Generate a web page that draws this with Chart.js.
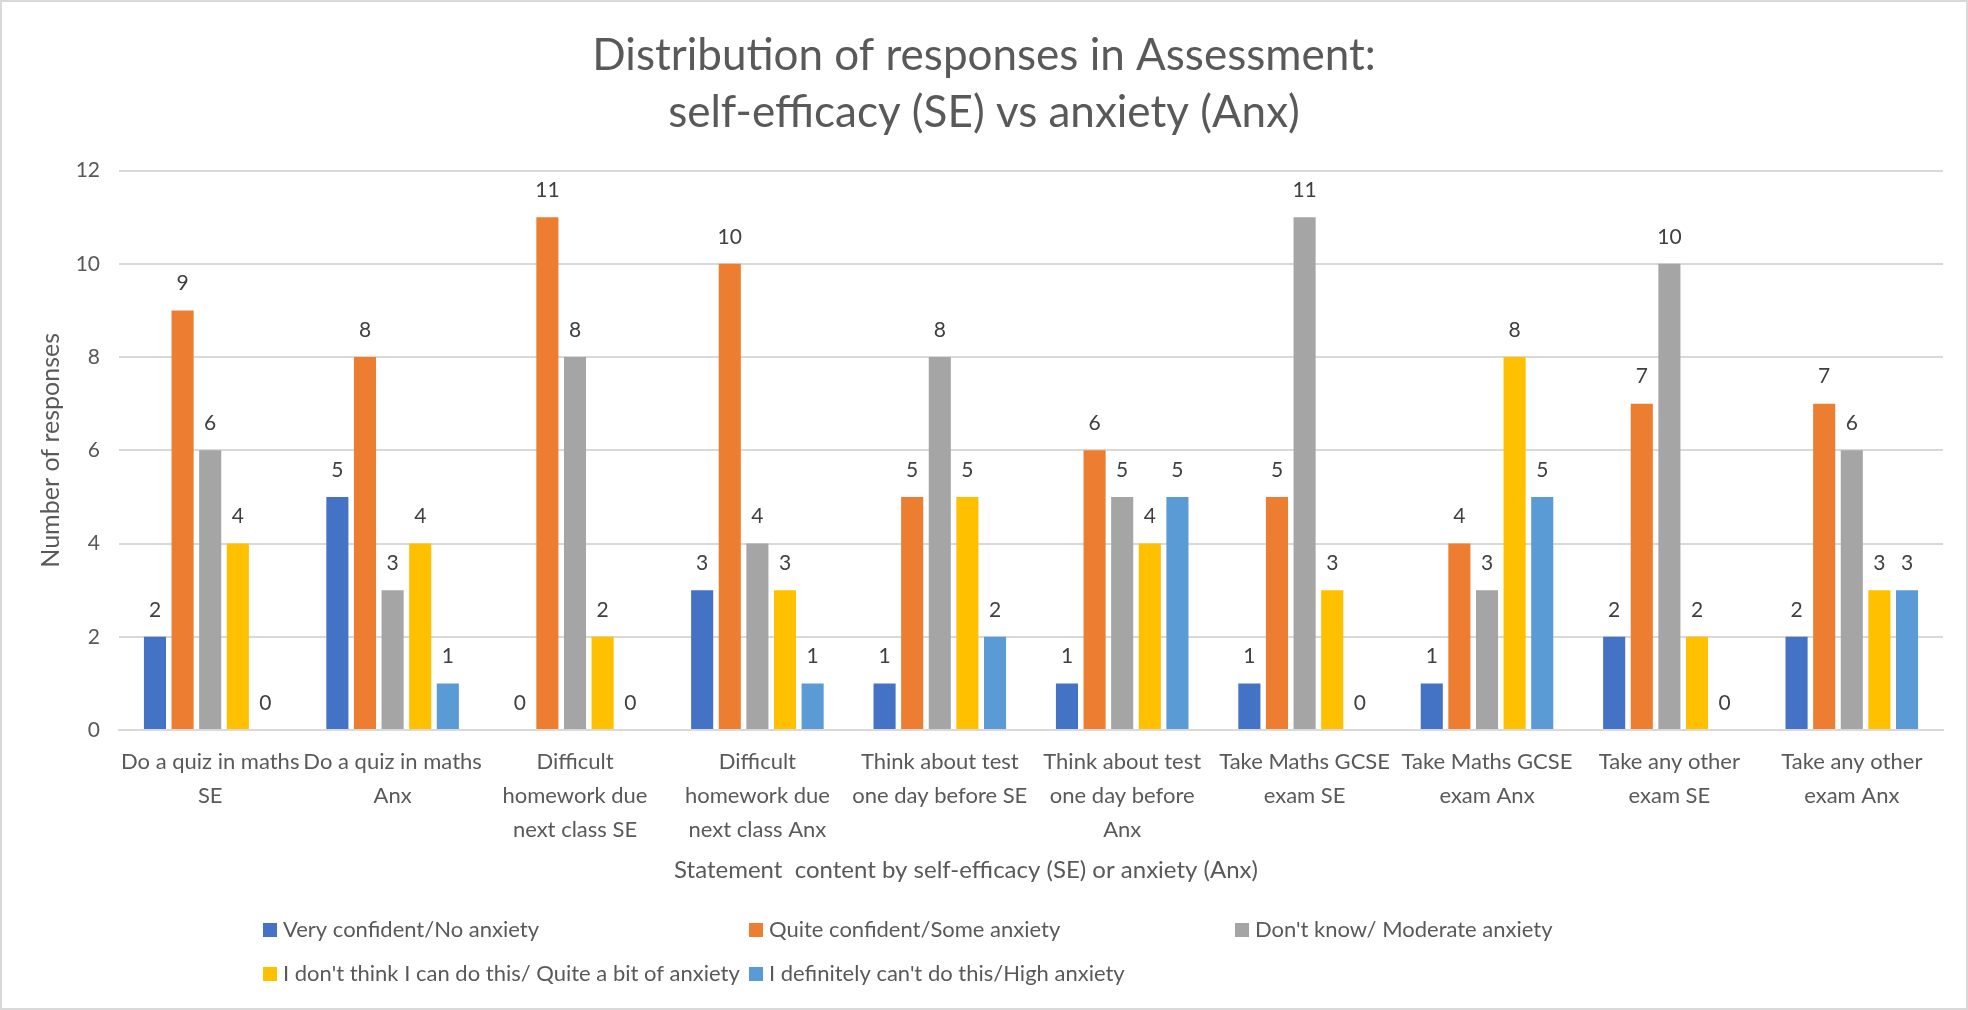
<!DOCTYPE html>
<html>
<head>
<meta charset="utf-8">
<title>Distribution of responses in Assessment</title>
<script src="https://cdn.jsdelivr.net/npm/chart.js@4.4.0/dist/chart.umd.min.js"></script>
<style>
  html, body { margin: 0; padding: 0; background: #ffffff; }
  #wrap { width: 1968px; height: 1010px; position: relative; }
</style>
</head>
<body>
<div id="wrap"><canvas id="chart" width="1968" height="1010"></canvas></div>
<script>
// Statements (x-axis categories), wrapped the way they are printed
const categories = [
  ['Do a quiz in maths', 'SE'],
  ['Do a quiz in maths', 'Anx'],
  ['Difficult', 'homework due', 'next class SE'],
  ['Difficult', 'homework due', 'next class Anx'],
  ['Think about test', 'one day before SE'],
  ['Think about test', 'one day before', 'Anx'],
  ['Take Maths GCSE', 'exam SE'],
  ['Take Maths GCSE', 'exam Anx'],
  ['Take any other', 'exam SE'],
  ['Take any other', 'exam Anx']
];

// Response options
const seriesLabels = [
  'Very confident/No anxiety',
  'Quite confident/Some anxiety',
  "Don't know/ Moderate anxiety",
  "I don't think I can do this/ Quite a bit of anxiety",
  "I definitely can't do this/High anxiety"
];
const seriesColors = ['#4472C4', '#ED7D31', '#A5A5A5', '#FFC000', '#5B9BD5'];

// Number of responses per statement, one array per response option
const veryConfident   = [2, 5, 0, 3, 1, 1, 1, 1, 2, 2];
const quiteConfident  = [9, 8, 11, 10, 5, 6, 5, 4, 7, 7];
const dontKnow        = [6, 3, 8, 4, 8, 5, 11, 3, 10, 6];
const cantDoThis      = [4, 4, 2, 3, 5, 4, 3, 8, 2, 3];
const definitelyCant  = [0, 1, 0, 1, 2, 5, 0, 5, 0, 3];
const seriesValues = [veryConfident, quiteConfident, dontKnow, cantDoThis, definitelyCant];

// Value axis
const yMin = 0;
const yMax = 12;
const yStep = 2;

const chartTitle = ['Distribution of responses in Assessment:', 'self-efficacy (SE) vs anxiety (Anx)'];
const xTitle = 'Statement  content by self-efficacy (SE) or anxiety (Anx)';
const yTitle = 'Number of responses';

const FONT = "Lato, 'Open Sans', 'DejaVu Sans', sans-serif";
const TEXT = '#595959';
const GRID = '#D9D9D9';

// White background and thin frame around the chart
const framePlugin = {
  id: 'frame',
  beforeDraw(chart) {
    const { ctx, width, height } = chart;
    ctx.save();
    ctx.fillStyle = '#ffffff';
    ctx.fillRect(0, 0, width, height);
    ctx.strokeStyle = GRID;
    ctx.lineWidth = 2;
    ctx.strokeRect(1, 1, width - 2, height - 2);
    ctx.restore();
  }
};

// Value labels above each bar
const valueLabels = {
  id: 'valueLabels',
  afterDatasetsDraw(chart) {
    const { ctx } = chart;
    ctx.save();
    ctx.font = '21px ' + FONT;
    ctx.fillStyle = '#404040';
    ctx.textAlign = 'center';
    ctx.textBaseline = 'middle';
    chart.data.datasets.forEach((ds, i) => {
      const meta = chart.getDatasetMeta(i);
      meta.data.forEach((bar, j) => {
        ctx.fillText(String(ds.data[j]), bar.x, bar.y - 27);
      });
    });
    ctx.restore();
  }
};

// Axis title under the category labels and a two-row legend in columns
const bottomText = {
  id: 'bottomText',
  afterDraw(chart) {
    const { ctx } = chart;
    ctx.save();
    ctx.font = '24px ' + FONT;
    ctx.fillStyle = TEXT;
    ctx.textBaseline = 'middle';
    ctx.textAlign = 'center';
    ctx.fillText(xTitle, 966, 870);

    const colX = [263, 749, 1235];
    const rowY = [930, 974];
    ctx.font = '22px ' + FONT;
    ctx.textAlign = 'left';
    chart.data.datasets.forEach((ds, i) => {
      const x = colX[i % 3];
      const y = rowY[Math.floor(i / 3)];
      ctx.fillStyle = ds.backgroundColor;
      ctx.fillRect(x, y - 7, 14, 14);
      ctx.fillStyle = TEXT;
      ctx.fillText(ds.label, x + 20, y);
    });
    ctx.restore();
  }
};

const datasets = seriesLabels.map((label, i) => ({
  label: label,
  data: seriesValues[i],
  backgroundColor: seriesColors[i],
  borderWidth: 0,
  categoryPercentage: 0.757,
  barPercentage: 0.8
}));

new Chart(document.getElementById('chart'), {
  type: 'bar',
  data: { labels: categories, datasets: datasets },
  plugins: [framePlugin, valueLabels, bottomText],
  options: {
    responsive: false,
    animation: false,
    devicePixelRatio: 1,
    layout: { padding: { left: 0, right: 0, top: 0, bottom: 110 } },
    plugins: {
      legend: { display: false },
      tooltip: { enabled: false },
      title: {
        display: true,
        text: chartTitle,
        color: TEXT,
        font: { family: FONT, size: 44, weight: 'normal', lineHeight: 1.28 },
        padding: { top: 28, bottom: 30 }
      }
    },
    scales: {
      x: {
        grid: { display: false, drawTicks: false },
        border: { display: true, color: GRID, width: 2 },
        ticks: {
          color: TEXT,
          font: { family: FONT, size: 22, lineHeight: 1.54 },
          padding: 15,
          maxRotation: 0,
          minRotation: 0,
          autoSkip: false
        },
        afterFit(scale) { scale.height = 170; }
      },
      y: {
        min: yMin,
        max: yMax,
        grid: { color: GRID, lineWidth: 2, drawTicks: false },
        border: { display: false },
        ticks: {
          stepSize: yStep,
          color: TEXT,
          font: { family: FONT, size: 21 },
          padding: 19
        },
        title: {
          display: true,
          text: yTitle,
          color: TEXT,
          font: { family: FONT, size: 25, lineHeight: 1.4 },
          padding: { top: 33, bottom: 0 }
        },
        afterFit(scale) { scale.width = 119; }
      },
      // empty margin on the right of the plot
      yRight: {
        position: 'right',
        min: yMin,
        max: yMax,
        grid: { display: false, drawTicks: false },
        border: { display: false },
        ticks: { display: false },
        afterFit(scale) { scale.width = 25; }
      }
    }
  }
});
</script>
</body>
</html>
